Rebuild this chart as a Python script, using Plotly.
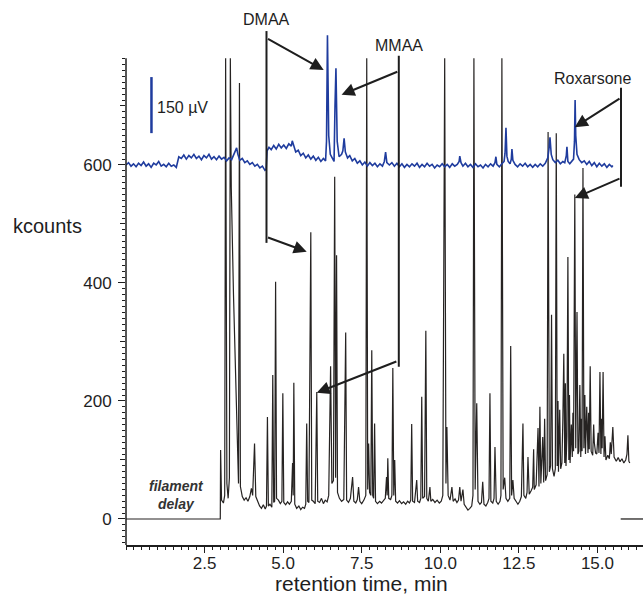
import plotly.graph_objects as go

# ---------------- data ----------------
# black trace: GC-ICP chromatogram, kcounts (off-scale peaks shown at axis top 781)
chrom_t = [
    0.00, 3.00, 3.01, 3.04, 3.10, 3.14, 3.17, 3.21, 3.25, 3.29,
    3.32, 3.35, 3.42, 3.50, 3.55, 3.58, 3.61, 3.64, 3.70, 3.76,
    3.82, 3.88, 3.94, 3.99, 4.03, 4.09, 4.13, 4.19, 4.25, 4.31,
    4.37, 4.43, 4.47, 4.50, 4.53, 4.58, 4.64, 4.67, 4.70, 4.73,
    4.76, 4.79, 4.85, 4.91, 4.96, 4.99, 5.02, 5.08, 5.14, 5.20,
    5.26, 5.30, 5.32, 5.34, 5.37, 5.43, 5.50, 5.56, 5.62, 5.68,
    5.72, 5.75, 5.78, 5.82, 5.88, 5.91, 5.96, 6.02, 6.07, 6.10,
    6.16, 6.22, 6.28, 6.34, 6.40, 6.45, 6.51, 6.55, 6.60, 6.64,
    6.67, 6.70, 6.73, 6.79, 6.86, 6.93, 6.99, 7.02, 7.08, 7.14,
    7.21, 7.25, 7.31, 7.36, 7.40, 7.44, 7.50, 7.57, 7.63, 7.66,
    7.69, 7.72, 7.75, 7.79, 7.82, 7.85, 7.88, 7.91, 7.94, 8.00,
    8.07, 8.13, 8.19, 8.25, 8.29, 8.31, 8.33, 8.36, 8.42, 8.46,
    8.49, 8.52, 8.55, 8.58, 8.64, 8.70, 8.77, 8.83, 8.90, 8.96,
    9.02, 9.06, 9.09, 9.12, 9.18, 9.25, 9.28, 9.34, 9.38, 9.41,
    9.44, 9.50, 9.54, 9.57, 9.62, 9.67, 9.70, 9.76, 9.83, 9.90,
    9.97, 10.03, 10.08, 10.14, 10.18, 10.21, 10.25, 10.31, 10.37, 10.41,
    10.47, 10.53, 10.58, 10.62, 10.66, 10.72, 10.76, 10.82, 10.88, 10.94,
    11.00, 11.04, 11.07, 11.11, 11.16, 11.20, 11.26, 11.31, 11.35, 11.39,
    11.45, 11.51, 11.55, 11.58, 11.61, 11.67, 11.71, 11.74, 11.78, 11.84,
    11.90, 11.93, 11.96, 12.00, 12.05, 12.09, 12.15, 12.21, 12.24, 12.27,
    12.31, 12.35, 12.41, 12.47, 12.53, 12.58, 12.63, 12.66, 12.72, 12.76,
    # late, denser part
    12.79, 12.83, 12.89, 12.94, 12.97, 12.99, 13.05, 13.11, 13.14, 13.17,
    13.20, 13.26, 13.29, 13.32, 13.35, 13.40, 13.43, 13.47, 13.51, 13.54,
    13.57, 13.62, 13.66, 13.69, 13.72, 13.745, 13.76, 13.80, 13.83, 13.87,
    13.90, 13.93, 13.96, 13.98, 14.00, 14.03, 14.06, 14.09, 14.11, 14.13,
    14.17, 14.20, 14.22, 14.24, 14.28, 14.31, 14.35, 14.38, 14.41, 14.44,
    14.47, 14.49, 14.51, 14.54, 14.57, 14.60, 14.62, 14.66, 14.70, 14.72,
    14.74, 14.77, 14.80, 14.85, 14.88, 14.90, 14.94, 14.98, 15.02, 15.05,
    15.08, 15.11, 15.13, 15.15, 15.18, 15.21, 15.24, 15.27, 15.33, 15.38,
    15.41, 15.44, 15.49, 15.53, 15.60, 15.66, 15.72, 15.78, 15.84, 15.90,
    15.94, 15.97, 16.00, 16.03,
]
chrom_v = [
    0, 0, 117, 32, 27, 40, 781, 60, 35, 70,
    781, 560, 380, 210, 117, 60, 739, 55, 38, 32,
    36, 30, 38, 52, 40, 128, 38, 30, 22, 18,
    24, 17, 22, 173, 22, 25, 20, 244, 28, 30,
    402, 35, 32, 26, 30, 213, 28, 24, 29, 25,
    30, 95, 40, 231, 25, 18, 22, 16, 20, 18,
    25, 162, 30, 28, 486, 32, 30, 26, 215, 30,
    28, 35, 26, 32, 29, 40, 259, 60, 65, 580,
    70, 447, 45, 35, 30, 33, 316, 32, 28, 35,
    71, 30, 27, 33, 54, 30, 26, 32, 40, 781,
    50, 128, 45, 40, 286, 40, 35, 162, 30, 26,
    30, 27, 32, 35, 71, 40, 103, 35, 33, 40,
    256, 40, 100, 30, 27, 31, 26, 29, 25, 30,
    27, 32, 161, 30, 28, 66, 30, 28, 35, 207,
    35, 38, 319, 35, 30, 54, 30, 33, 28, 32,
    27, 30, 40, 781, 60, 156, 40, 32, 54, 30,
    34, 28, 32, 54, 30, 50, 25, 20, 15, 18,
    22, 40, 781, 50, 196, 30, 25, 28, 63, 25,
    22, 28, 35, 213, 30, 27, 35, 122, 30, 25,
    30, 40, 781, 50, 70, 35, 30, 35, 293, 40,
    66, 35, 30, 25, 30, 38, 162, 40, 35, 45,
    # late, denser part
    105, 42, 48, 54, 118, 50, 58, 154, 55, 190,
    60, 139, 62, 170, 65, 75, 656, 80, 90, 346,
    85, 72, 85, 654, 90, 200, 80, 185, 85, 95,
    170, 280, 95, 230, 90, 140, 444, 100, 210, 95,
    160, 105, 180, 115, 550, 120, 351, 110, 115, 227,
    105, 170, 115, 595, 120, 210, 110, 190, 112, 180,
    118, 259, 115, 108, 160, 130, 112, 110, 146, 112,
    249, 110, 170, 120, 249, 105, 140, 100, 108, 102,
    130, 110, 156, 105, 98, 104, 97, 102, 95, 100,
    110, 142, 98, 95,
]
# second filament-off segment at the right end
tail_t = [15.74, 16.45]
tail_v = [0, 0]

# blue trace: ESI/MS trace, offset to 600 on the kcounts scale
blue_t = [
    0.00, 0.08, 0.16, 0.24, 0.32, 0.40, 0.48, 0.56, 0.64, 0.72,
    0.80, 0.88, 0.96, 1.04, 1.12, 1.20, 1.28, 1.36, 1.44, 1.52,
    1.60, 1.64, 1.68, 1.76, 1.84, 1.92, 2.00, 2.08, 2.16, 2.24,
    2.32, 2.40, 2.48, 2.56, 2.64, 2.72, 2.80, 2.88, 2.96, 3.04,
    3.12, 3.20, 3.28, 3.36, 3.42, 3.47, 3.52, 3.56, 3.62, 3.70,
    3.78, 3.86, 3.94, 4.02, 4.10, 4.18, 4.26, 4.34, 4.42, 4.46,
    4.49, 4.55, 4.62, 4.70, 4.78, 4.86, 4.94, 5.02, 5.10, 5.18,
    5.26, 5.29, 5.34, 5.40, 5.48, 5.56, 5.64, 5.72, 5.80, 5.88,
    5.96, 6.04, 6.12, 6.20, 6.28, 6.35, 6.38, 6.41, 6.45, 6.50,
    6.56, 6.62, 6.65, 6.68, 6.72, 6.78, 6.86, 6.90, 6.94, 6.98,
    7.05, 7.12, 7.20, 7.28, 7.36, 7.44, 7.52, 7.60, 7.68, 7.76,
    7.84, 7.92, 8.00, 8.08, 8.16, 8.22, 8.26, 8.30, 8.38, 8.46,
    8.54, 8.62, 8.70, 8.78, 8.86, 8.94, 9.02, 9.10, 9.18, 9.26,
    9.34, 9.42, 9.50, 9.58, 9.66, 9.74, 9.82, 9.90, 9.98, 10.06,
    10.14, 10.22, 10.30, 10.38, 10.46, 10.54, 10.60, 10.62, 10.66, 10.72,
    10.80, 10.88, 10.96, 11.04, 11.12, 11.20, 11.28, 11.36, 11.44, 11.52,
    11.60, 11.68, 11.74, 11.77, 11.80, 11.88, 11.96, 12.03, 12.06, 12.09,
    12.12, 12.16, 12.22, 12.26, 12.28, 12.31, 12.38, 12.46, 12.54, 12.62,
    12.70, 12.78, 12.86, 12.94, 13.02, 13.10, 13.18, 13.26, 13.34, 13.42,
    13.46, 13.49, 13.53, 13.58, 13.66, 13.74, 13.82, 13.90, 13.96, 14.01,
    14.03, 14.06, 14.12, 14.18, 14.24, 14.27, 14.29, 14.31, 14.35, 14.42,
    14.50, 14.58, 14.66, 14.74, 14.82, 14.90, 14.98, 15.06, 15.14, 15.22,
    15.30, 15.38, 15.46, 15.49,
]
blue_v = [
    600, 604, 598, 602, 597, 603, 599, 605, 598, 602,
    596, 603, 600, 606, 598, 601, 597, 603, 598, 600,
    596, 606, 614, 611, 617, 610, 616, 612, 618, 611,
    615, 609, 616, 612, 618, 610, 614, 609, 615, 610,
    613, 607, 612, 609, 617, 622, 629, 618, 608, 611,
    604, 607, 601, 604, 598, 601, 595, 598, 591, 593,
    624, 630, 626, 633, 627, 635, 629, 634, 628, 636,
    632, 641, 630, 622, 625, 616, 620, 612, 617, 610,
    615, 608, 613, 606, 611, 607, 640, 820, 650, 618,
    612, 606, 700, 764, 640, 614, 618, 624, 645, 622,
    612, 616, 607, 611, 603, 607, 600, 605, 598, 604,
    599, 603, 597, 602, 598, 606, 622, 604, 600, 604,
    598, 603, 597, 602, 596, 601, 597, 602, 598, 603,
    596, 601, 597, 603, 598, 601, 595, 600, 597, 602,
    597, 601, 596, 602, 598, 601, 606, 615, 604, 598,
    603, 597, 601, 596, 602, 597, 600, 595, 601, 597,
    602, 598, 604, 614, 601, 597, 602, 606, 620, 663,
    615, 606, 602, 610, 627, 608, 601, 597, 602, 598,
    603, 597, 601, 596, 601, 597, 602, 598, 603, 612,
    628, 647, 618, 609, 604, 608, 602, 606, 604, 616,
    631, 606, 602, 606, 610, 640, 710, 650, 618, 609,
    604, 607, 601, 606, 599, 604, 597, 603, 598, 602,
    596, 601, 597, 599,
]
assert len(chrom_t) == len(chrom_v) and len(blue_t) == len(blue_v)

x_tickvals = [2.5, 5.0, 7.5, 10.0, 12.5, 15.0]
x_ticktext = ["2.5", "5.0", "7.5", "10.0", "12.5", "15.0"]
y_tickvals = [0, 200, 400, 600]
y_ticktext = ["0", "200", "400", "600"]
y_midticks = [100, 300, 500, 700]

# ---------------- layout constants ----------------
X_RANGE = [0, 16.45]
Y_RANGE = [-44.1, 862.7]
Y_AXIS_TOP = 781
FONT = "Liberation Sans, Arial, Helvetica, sans-serif"
INK = "#1e1e1e"
BLUE = "#1f3c9e"

fig = go.Figure()
fig.add_trace(go.Scatter(x=chrom_t, y=chrom_v, mode="lines",
                         line=dict(color="#262322", width=1.2), hoverinfo="skip"))
fig.add_trace(go.Scatter(x=tail_t, y=tail_v, mode="lines",
                         line=dict(color="#262322", width=1.3), hoverinfo="skip"))
fig.add_trace(go.Scatter(x=blue_t, y=blue_v, mode="lines",
                         line=dict(color=BLUE, width=1.6), hoverinfo="skip"))
fig.add_trace(go.Scatter(x=[], y=[], yaxis="y2", showlegend=False))

minor_x = [i * 0.25 for i in range(0, 66)]
minor_y = list(range(-40, Y_AXIS_TOP, 10))

fig.update_layout(
    width=643, height=602,
    margin=dict(l=126, r=0, t=10, b=57),
    paper_bgcolor="white", plot_bgcolor="white",
    showlegend=False,
    font=dict(family=FONT, color=INK),
    xaxis=dict(range=X_RANGE, showgrid=False, zeroline=False,
               showline=True, linecolor=INK, linewidth=1.5,
               ticks="outside", tickvals=x_tickvals, ticktext=x_ticktext,
               ticklen=6, tickwidth=1.3, tickcolor=INK, ticklabelstandoff=-4,
               tickfont=dict(size=17, family=FONT, color=INK),
               minor=dict(tickvals=minor_x, ticks="outside", ticklen=3,
                          tickwidth=1, tickcolor=INK)),
    yaxis=dict(range=Y_RANGE, showgrid=False, zeroline=False, showline=False,
               ticks="outside", tickvals=y_tickvals, ticktext=y_ticktext,
               ticklen=7, tickwidth=1.3, tickcolor=INK, ticklabelstandoff=3,
               tickfont=dict(size=17, family=FONT, color=INK),
               minor=dict(tickvals=minor_y, ticks="outside", ticklen=3,
                          tickwidth=1, tickcolor=INK)),
    yaxis2=dict(range=Y_RANGE, overlaying="y", side="left", anchor="x",
                showgrid=False, zeroline=False, showline=False,
                ticks="outside", tickvals=y_midticks, ticklen=5,
                tickwidth=1.1, tickcolor=INK, showticklabels=False),
)

# y axis line (only up to the top of the scale)
ytop_frac = (Y_AXIS_TOP - Y_RANGE[0]) / (Y_RANGE[1] - Y_RANGE[0])
fig.add_shape(type="line", xref="paper", yref="paper", x0=0, x1=0,
              y0=0, y1=ytop_frac, line=dict(color=INK, width=1.5))

# scale bar 150 µV
fig.add_shape(type="line", xref="x", yref="y", x0=0.81, x1=0.81, y0=654, y1=749,
              line=dict(color=BLUE, width=2.5))

# callout brackets
for (bx, by0, by1) in [(4.47, 468, 827), (8.68, 258, 785), (15.75, 563, 731)]:
    fig.add_shape(type="line", xref="x", yref="y", x0=bx, x1=bx, y0=by0, y1=by1,
                  line=dict(color=INK, width=2))

arrows = [
    # (tail_x, tail_y, head_x, head_y)
    (4.47, 815, 6.29, 761),
    (4.47, 478, 5.75, 453),
    (8.68, 759, 6.86, 719),
    (8.65, 268, 6.07, 214),
    (15.75, 714, 14.28, 664),
    (15.75, 578, 14.28, 544),
]
for (tx, ty, hx, hy) in arrows:
    fig.add_annotation(x=hx, y=hy, ax=tx, ay=ty, xref="x", yref="y",
                       axref="x", ayref="y", text="", showarrow=True,
                       arrowhead=2, arrowsize=1.3, arrowwidth=2,
                       arrowcolor=INK, standoff=0, startstandoff=0)

labels = [
    ("DMAA", 4.47, 846),
    ("MMAA", 8.68, 803),
    ("Roxarsone", 14.84, 747),
]
for (txt, lx, ly) in labels:
    fig.add_annotation(x=lx, y=ly, xref="x", yref="y", text=txt, showarrow=False,
                       font=dict(size=16, family=FONT, color=INK),
                       xanchor="center", yanchor="middle")

fig.add_annotation(x=0.91, y=697, xref="x", yref="y", text="150 µV", showarrow=False,
                   font=dict(size=16, family=FONT, color=INK),
                   xanchor="left", yanchor="middle")
fig.add_annotation(x=1.61, y=41, xref="x", yref="y",
                   text="<b><i>filament<br>delay</i></b>", showarrow=False,
                   font=dict(size=14, family=FONT, color="#333333"),
                   xanchor="center", yanchor="middle", align="center")
fig.add_annotation(x=-(126.5 - 48) / 517, y=497, xref="paper", yref="y",
                   text="kcounts", showarrow=False,
                   font=dict(size=20, family=FONT, color=INK),
                   xanchor="center", yanchor="middle")
fig.add_annotation(x=7.5, y=-(583 - 545) / 535, xref="x", yref="paper",
                   text="retention time, min", showarrow=False,
                   font=dict(size=21, family=FONT, color=INK),
                   xanchor="center", yanchor="middle")

fig.write_html("out.html", config={"displayModeBar": False},
               post_script="document.body.style.margin='0px';")
